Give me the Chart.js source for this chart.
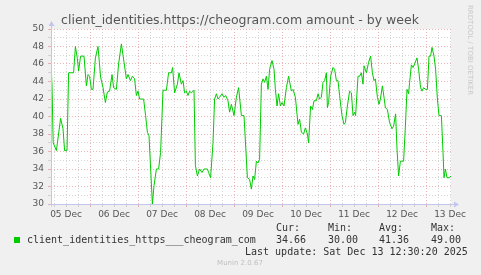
<!DOCTYPE html>
<html>
<head>
<meta charset="utf-8">
<script src="https://cdn.jsdelivr.net/npm/chart.js@4"></script>
<style>
  body { margin: 0; background: #f0f0f0; }
  #wrap { position: relative; width: 481px; height: 275px; overflow: hidden; }
  canvas { position: absolute; left: 0; top: 0; }
  .t { position: absolute; white-space: pre; }
  .mono { font-family: "DejaVu Sans Mono", monospace; font-size: 10px; line-height: 10px; color: #333; }
</style>
</head>
<body>
<div id="wrap">
  <canvas id="chart" width="481" height="275"></canvas>
  <div class="t" style="left:0;width:480px;top:14px;text-align:center;font-family:'DejaVu Sans';font-size:12.5px;line-height:12px;color:#555;">client_identities.https://cheogram.com amount - by week</div>
  <div class="t" style="left:466px;top:5px;writing-mode:vertical-rl;font-family:'DejaVu Sans';font-size:7px;line-height:8px;color:#c8c8c8;">RRDTOOL / TOBI OETIKER</div>
  <div class="t mono" style="left:276px;top:223px;">Cur:</div>
  <div class="t mono" style="left:328px;top:223px;">Min:</div>
  <div class="t mono" style="left:379px;top:223px;">Avg:</div>
  <div class="t mono" style="left:431px;top:223px;">Max:</div>
  <div style="position:absolute;left:14px;top:237px;width:6px;height:6px;background:#00cc00;"></div>
  <div class="t mono" style="left:27px;top:235px;" id="seriesName"></div>
  <div class="t mono" style="left:276px;top:235px;" id="vCur"></div>
  <div class="t mono" style="left:328px;top:235px;" id="vMin"></div>
  <div class="t mono" style="left:379px;top:235px;" id="vAvg"></div>
  <div class="t mono" style="left:431px;top:235px;" id="vMax"></div>
  <div class="t mono" style="left:245px;top:247px;">Last update: Sat Dec 13 12:30:20 2025</div>
  <div class="t" style="left:0;width:480px;top:259px;text-align:center;font-family:'DejaVu Sans';font-size:7px;line-height:8px;color:#c0c0c0;">Munin 2.0.67</div>
</div>
<script>
// hours since 05 Dec 00:00
const hours = [4.5, 5.0, 5.6, 7.2, 9.3, 10.5, 11.3, 12.5, 13.3, 15.8, 16.7, 17.7, 18.3, 19.3, 21, 22.2, 23, 23.8, 24.7, 25.5,
  26.7, 28, 29.3, 30.5, 31.7, 32.7, 33.8, 35, 35.8, 37.2, 38.3, 39.7, 41, 42.2, 43, 44.2, 45.2, 46.3, 47.2, 48,
  48.8, 49.7, 50.8, 51.8, 52.7, 53.5, 55.2, 56, 57.2, 58.3, 59.3, 60.5, 62.2, 63.3, 64.7, 65.3, 66.3, 67.7, 68.5, 69.7,
  70.5, 71.3, 72.2, 73, 73.8, 74.7, 76, 76.7, 77.7, 78.8, 80, 81, 82.7, 83.3, 84.3, 85.5, 86.3, 87.2, 88, 88.8,
  90, 91, 91.8, 93, 93.8, 94.7, 96, 97.2, 98.3, 99.7, 101, 102.7, 103.8, 104.7, 105.5, 106.3, 107.2, 108, 108.8, 109.7,
  110.5, 111.3, 112.2, 113, 113.8, 115, 116, 116.7, 117.5, 118.3, 119.2, 120, 121, 122.2, 123.3, 124.7, 125.5, 126.7, 128, 128.8,
  129.7, 130.8, 131.7, 132.7, 133.3, 134.3, 135.2, 136, 137.2, 138, 138.8, 139.7, 140.5, 141.3, 142.2, 142.7, 143.3, 144.3, 145.5, 146.3,
  147.2, 148, 148.8, 150, 151, 151.7, 152.7, 153.8, 154.7, 155.5, 156.3, 156.8, 158, 158.8, 159.7, 160.5, 161, 162.2, 163.3, 164.3,
  165.2, 166, 166.7, 167.7, 168.5, 169.2, 170.2, 171, 171.7, 172.7, 173.8, 175, 175.8, 176.8, 177.5, 178.3, 179.2, 180, 180.8, 181.7,
  182.5, 183.3, 183.8, 184.7, 185.5, 186.3, 187.5, 188.3, 189.3, 190, 190.8, 191.7, 192.7, 193.5, 194.3, 195, 196, 196.8, 197.7, 198.5,
  199.7, 200.5, 201, 201.7, 202.5, 203.5, 204.5];
const amount = [46.2, 43.5, 37.0, 36.1, 39.8, 38.6, 36.1, 36.1, 45.0, 45.0, 48.0, 46.6, 45.2, 46.9, 46.9, 43.5, 44.8, 44.6, 43.1, 43.1,
  46.7, 48.0, 44.5, 43.3, 41.6, 42.8, 42.9, 44.8, 43.3, 43.1, 46.0, 48.3, 46.2, 44.3, 44.8, 44.1, 44.6, 44.3, 42.4, 42.9,
  42.0, 42.0, 42.0, 40.1, 38.2, 37.8, 30.0, 32.1, 34.0, 34.0, 35.9, 43.0, 43.0, 45.0, 45.0, 45.6, 42.7, 43.7, 45.0, 43.7,
  44.1, 42.7, 42.9, 42.4, 42.9, 42.7, 43.0, 34.4, 33.2, 34.0, 33.6, 34.0, 34.0, 33.6, 33.0, 37.0, 42.0, 42.6, 42.0, 42.2,
  42.6, 42.2, 42.4, 41.8, 40.5, 41.4, 40.1, 42.2, 43.3, 40.1, 40.1, 33.0, 32.8, 31.7, 33.2, 32.8, 34.9, 34.7, 35.1, 43.7,
  44.3, 43.9, 44.6, 43.1, 45.4, 46.4, 45.4, 43.1, 41.2, 42.6, 41.2, 41.6, 41.2, 43.3, 44.6, 42.9, 43.1, 42.2, 39.1, 39.7,
  38.2, 38.0, 38.7, 38.0, 37.0, 41.2, 40.8, 41.8, 41.8, 42.6, 42.0, 42.2, 43.9, 44.1, 45.0, 41.0, 41.6, 44.6, 45.6, 45.4,
  44.1, 44.1, 42.4, 40.1, 39.1, 39.3, 41.2, 42.9, 42.7, 40.1, 40.5, 40.1, 44.6, 44.6, 45.0, 43.7, 45.8, 45.0, 46.2, 46.9,
  45.0, 44.1, 44.3, 42.2, 41.4, 42.0, 43.5, 42.2, 41.0, 40.8, 39.3, 38.6, 38.9, 40.3, 36.3, 33.2, 34.9, 34.9, 34.9, 38.9,
  43.1, 42.6, 43.9, 45.9, 45.6, 46.0, 46.7, 45.4, 43.3, 42.9, 43.3, 43.1, 43.1, 46.9, 46.9, 47.9, 46.9, 45.4, 42.0, 40.1,
  40.1, 35.9, 33.0, 34.0, 33.0, 33.0, 33.2];

const dayLabels = ['05 Dec', '06 Dec', '07 Dec', '08 Dec', '09 Dec', '10 Dec', '11 Dec', '12 Dec', '13 Dec'];
const seriesName = 'client_identities_https___cheogram_com';
const stats = { cur: '34.66', min: '30.00', avg: '41.36', max: '49.00' };

document.getElementById('seriesName').textContent = seriesName;
document.getElementById('vCur').textContent = stats.cur;
document.getElementById('vMin').textContent = stats.min;
document.getElementById('vAvg').textContent = stats.avg;
document.getElementById('vMax').textContent = stats.max;

const MAJOR = 'rgba(228,150,150,0.7)';
const MINOR = 'rgba(195,195,195,0.7)';
const AXIS = '#c4c4ec';

const plotDecor = {
  id: 'plotDecor',
  beforeDraw(chart) {
    const a = chart.chartArea, ctx = chart.ctx;
    ctx.save();
    ctx.fillStyle = '#ffffff';
    ctx.fillRect(a.left, a.top, a.right - a.left, a.bottom - a.top);
    ctx.restore();
  },
  afterDraw(chart) {
    const a = chart.chartArea, ctx = chart.ctx;
    const x0 = Math.round(a.left) + 0.5, y0 = Math.round(a.bottom) + 0.5;
    ctx.save();
    ctx.strokeStyle = AXIS;
    ctx.fillStyle = AXIS;
    ctx.lineWidth = 1;
    ctx.beginPath();
    ctx.moveTo(x0, y0 + 2);
    ctx.lineTo(x0, a.top - 4);
    ctx.moveTo(x0 - 2, y0);
    ctx.lineTo(a.right + 4, y0);
    ctx.stroke();
    ctx.beginPath();
    ctx.moveTo(x0 - 3, a.top - 3);
    ctx.lineTo(x0 + 3, a.top - 3);
    ctx.lineTo(x0, a.top - 8);
    ctx.closePath();
    ctx.fill();
    ctx.beginPath();
    ctx.moveTo(a.right + 3, y0 - 3);
    ctx.lineTo(a.right + 3, y0 + 3);
    ctx.lineTo(a.right + 8, y0);
    ctx.closePath();
    ctx.fill();
    ctx.restore();
  }
};

new Chart(document.getElementById('chart'), {
  type: 'line',
  data: {
    datasets: [{
      label: seriesName,
      data: hours.map((h, i) => ({ x: h, y: amount[i] })),
      borderColor: '#00cc00',
      borderWidth: 1,
      pointRadius: 0,
      tension: 0,
      fill: false
    }]
  },
  options: {
    responsive: false,
    animation: false,
    layout: { padding: { top: 29, right: 30, left: 0, bottom: 0 } },
    plugins: { legend: { display: false }, title: { display: false }, tooltip: { enabled: false } },
    scales: {
      x: {
        type: 'linear',
        min: 4.5,
        max: 204.5,
        afterBuildTicks(scale) {
          const t = [];
          for (let h = 6; h <= 204; h += 6) t.push({ value: h });
          scale.ticks = t;
        },
        afterFit(scale) { scale.height = 71; },
        ticks: {
          autoSkip: false,
          maxRotation: 0,
          padding: 2,
          color: '#555',
          font: { family: 'DejaVu Sans', size: 9 },
          callback: (v) => ((v - 12) % 24 === 0 ? dayLabels[(v - 12) / 24] : '')
        },
        grid: {
          color: (c) => (c.tick && c.tick.value % 24 === 0 ? MAJOR : MINOR),
          tickColor: (c) => (c.tick && c.tick.value % 24 === 0 ? MAJOR : MINOR),
          tickLength: 3,
          lineWidth: 1
        },
        border: { display: false, dash: [1, 2] }
      },
      y: {
        min: 30,
        max: 50,
        afterFit(scale) { scale.width = 51; },
        ticks: {
          stepSize: 1,
          autoSkip: false,
          padding: 4,
          color: '#555',
          font: { family: 'DejaVu Sans', size: 9 },
          callback: (v) => (v % 2 === 0 ? String(v) : '')
        },
        grid: {
          color: (c) => (c.tick && c.tick.value % 2 === 0 ? MAJOR : MINOR),
          tickColor: (c) => (c.tick && c.tick.value % 2 === 0 ? MAJOR : MINOR),
          tickLength: 3,
          lineWidth: 1
        },
        border: { display: false, dash: [1, 2] }
      }
    }
  },
  plugins: [plotDecor]
});
</script>
</body>
</html>
